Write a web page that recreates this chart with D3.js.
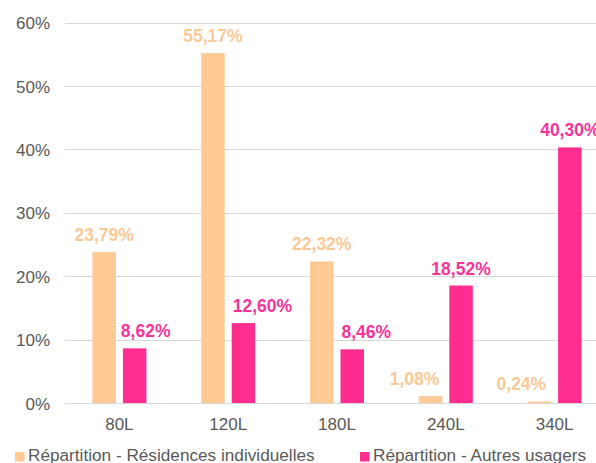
<!DOCTYPE html>
<html>
<head>
<meta charset="utf-8">
<script src="https://cdn.jsdelivr.net/npm/d3@7"></script>
<style>
  html, body { margin: 0; padding: 0; background: #ffffff; }
  svg { display: block; }
  text { font-family: "Liberation Sans", Arial, sans-serif; }
</style>
</head>
<body>
<div id="chart"></div>
<script>
// ---- data ----
const categories = ["80L", "120L", "180L", "240L", "340L"];
const seriesNames = ["Répartition - Résidences individuelles", "Répartition - Autres usagers"];
const residences = [23.79, 55.17, 22.32, 1.08, 0.24];
const autres = [8.62, 12.60, 8.46, 18.52, 40.30];
const yTicks = [0, 10, 20, 30, 40, 50, 60];

// ---- layout / style (not data) ----
const W = 596, H = 463;
const colors = ["#FFC994", "#FF2D8D"];
const labelColors = ["#FCC895", "#F9339A"];
const labelNudge = [[0, 0, 0, -16, -18], [11, 19, 14, 0, 0]];

const svg = d3.select("#chart").append("svg").attr("width", W).attr("height", H);

const x = d3.scaleBand().domain(categories).range([65, 609]).paddingInner(0).paddingOuter(0);
const y = d3.scaleLinear().domain([0, 60]).range([403, 22.5]);

// grid lines
svg.append("g").selectAll("line").data(yTicks).join("line")
  .attr("x1", 65).attr("x2", W)
  .attr("y1", d => Math.round(y(d)) + 0.5).attr("y2", d => Math.round(y(d)) + 0.5)
  .attr("stroke", "#D9D9D9").attr("stroke-width", 1.2);

// y axis labels
const yAxis = d3.axisLeft(y).tickValues(yTicks).tickFormat(d => d + "%").tickSize(0).tickPadding(0);
const gy = svg.append("g").attr("transform", "translate(50,0)").call(yAxis);
gy.select(".domain").remove();
gy.selectAll("text").attr("fill", "#595959").attr("font-size", 17).attr("dy", "0.36em");

// x axis labels
const xAxis = d3.axisBottom(x).tickSize(0).tickPadding(0);
const gx = svg.append("g").attr("transform", "translate(0,417.5)").call(xAxis);
gx.select(".domain").remove();
gx.selectAll("text").attr("fill", "#595959").attr("font-size", 17).attr("dy", "0.71em");

const series = [residences, autres];
const barW = 23.5, gap = 7;
const barX = (cat, s) => x(cat) + x.bandwidth() / 2 + (s === 0 ? -gap / 2 - barW : gap / 2);

series.forEach((vals, s) => {
  const g = svg.append("g");
  g.selectAll("rect").data(vals).join("rect")
    .attr("x", (d, i) => barX(categories[i], s))
    .attr("width", barW)
    .attr("y", d => y(d))
    .attr("height", d => y(0) - y(d))
    .attr("fill", colors[s]);
  g.selectAll("text").data(vals).join("text")
    .attr("x", (d, i) => barX(categories[i], s) + barW / 2 + labelNudge[s][i])
    .attr("y", d => y(d) - 11)
    .attr("text-anchor", "middle")
    .attr("font-size", 17.5)
    .attr("font-weight", "bold")
    .attr("fill", labelColors[s])
    .text(d => d3.format(".2f")(d).replace(".", ",") + "%");
});

// legend
const legendX = [15, 360];
const lg = svg.append("g");
seriesNames.forEach((name, s) => {
  lg.append("rect").attr("x", legendX[s]).attr("y", 452).attr("width", 9.5).attr("height", 9.5).attr("fill", colors[s]);
  lg.append("text").attr("x", legendX[s] + 13).attr("y", 461)
    .attr("font-size", 17.2).attr("fill", "#595959").text(name);
});
</script>
</body>
</html>
